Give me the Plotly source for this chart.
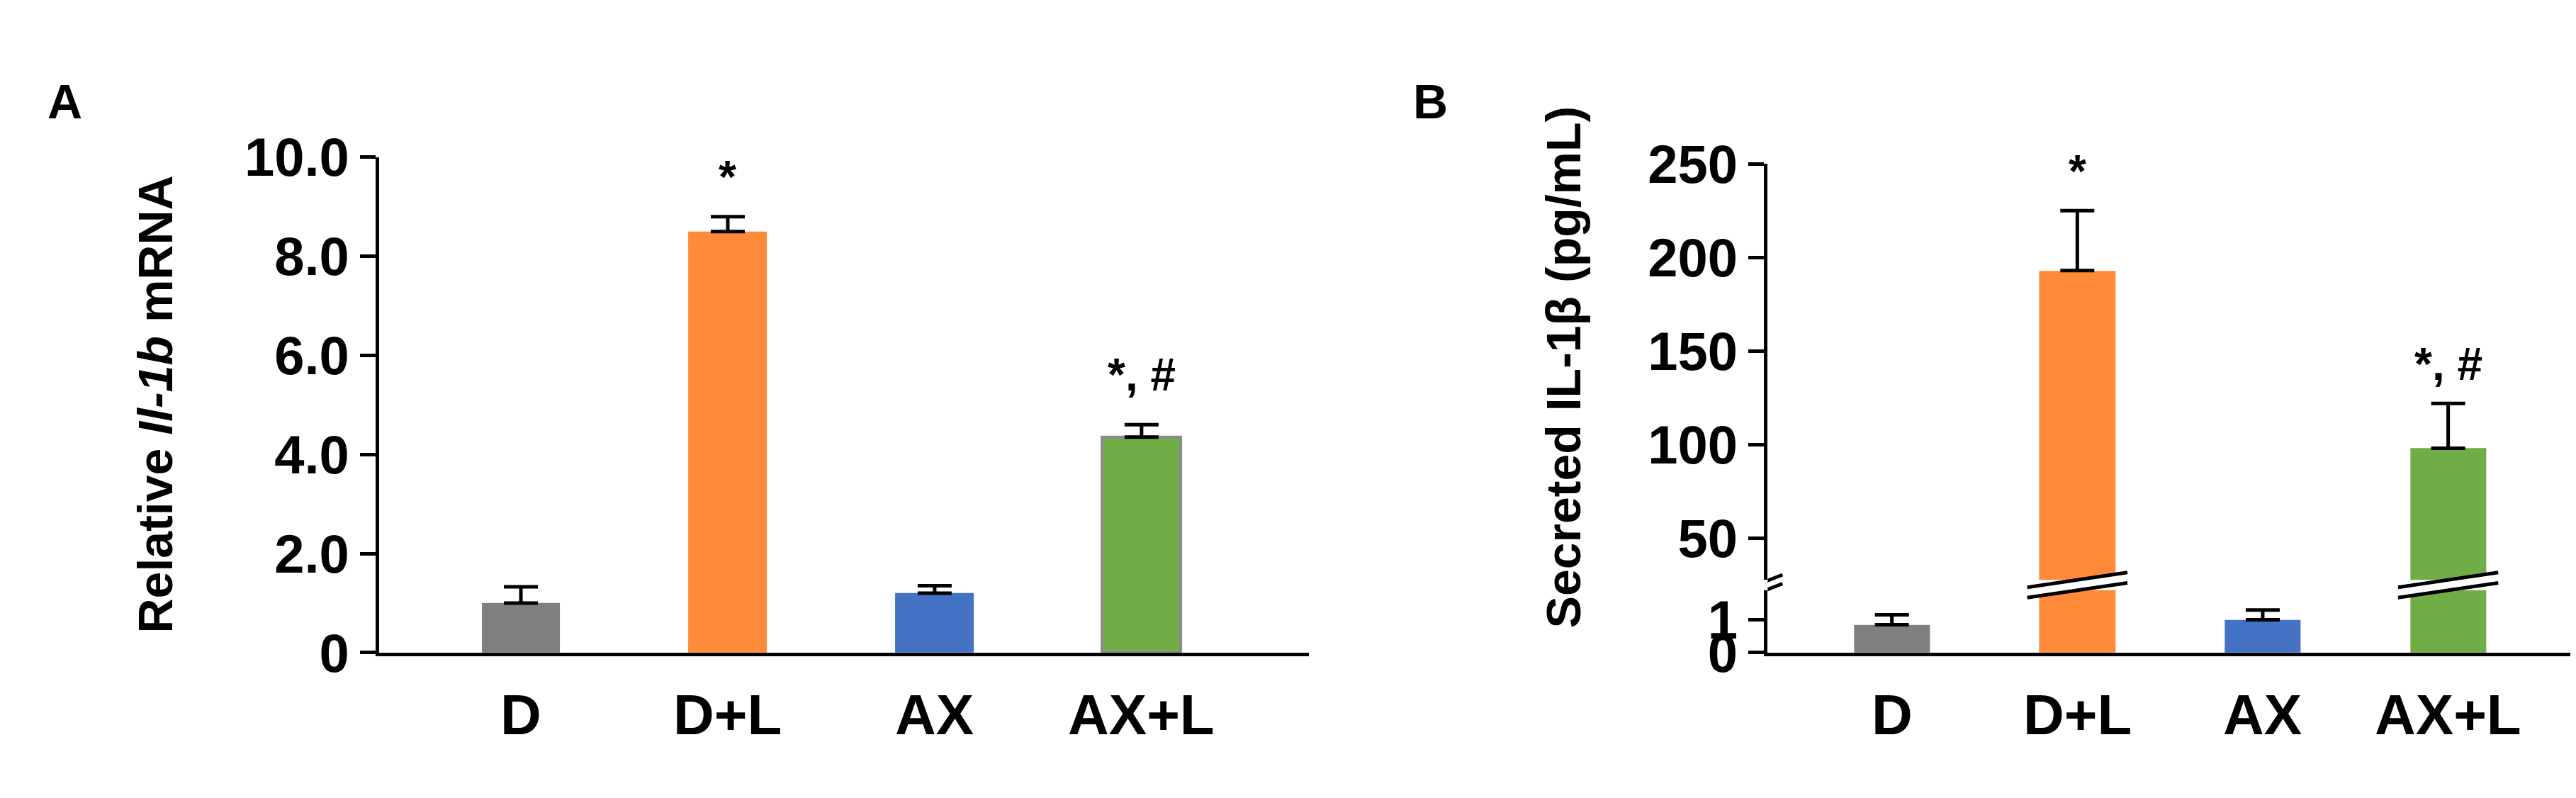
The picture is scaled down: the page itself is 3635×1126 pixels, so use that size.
import plotly.graph_objects as go

categories = ["D", "D+L", "AX", "AX+L"]
colors = ["#7f7f7f", "#ff8b3a", "#4472c4", "#70ad47"]

mrna_values = [1.0, 8.5, 1.2, 4.35]
mrna_err = [0.33, 0.3, 0.15, 0.25]
mrna_ticks = [0, 2, 4, 6, 8, 10]
mrna_ticktext = ["0", "2.0", "4.0", "6.0", "8.0", "10.0"]
mrna_marks = ["", "*", "", "*, #"]
mrna_mark_y = [0, 9.6, 0, 5.6]

il1b_values = [0.85, 193, 1.0, 98]
il1b_err = [0.3, 32, 0.3, 24]
il1b_ticks_upper = [50, 100, 150, 200, 250]
il1b_ticks_lower = [0, 1]
il1b_marks = ["", "*", "", "*, #"]
il1b_mark_y = [0, 246, 0, 143]

W, H = 3635, 1126
FONT = "Liberation Sans Narrow, Liberation Sans, Arial"
xs = list(range(len(categories)))

fig = go.Figure()

def bars(xa, ya, vals, errs, width, outline):
    fig.add_trace(go.Bar(
        x=xs, y=vals, xaxis=xa, yaxis=ya, width=width,
        marker=dict(color=colors, line=dict(color=outline, width=4)),
        error_y=dict(type="data", array=errs, arrayminus=[0]*len(errs), symmetric=False,
                     color="black", thickness=5, width=24),
        showlegend=False))

clear = "rgba(0,0,0,0)"
bars("x", "y", mrna_values, mrna_err, 0.38, [clear, clear, clear, "#8c8c8c"])
bars("x2", "y2", il1b_values, il1b_err, 0.41, [clear]*4)
bars("x2", "y3", il1b_values, il1b_err, 0.41, [clear]*4)

tickfont = dict(family=FONT, size=76, color="black")
axis_y = dict(showline=True, linecolor="black", linewidth=5, ticks="outside", ticklen=22,
              tickwidth=5, tickcolor="black", tickfont=tickfont, showgrid=False, zeroline=False)
axis_x = dict(showline=True, linecolor="black", linewidth=5, showticklabels=False, ticks="",
              showgrid=False, zeroline=False, fixedrange=True)

def bold(lst):
    return ["<b>%s</b>" % t for t in lst]

upper_lo, upper_dom = 27.7, [0.262, 0.826]
lower_hi, lower_dom = 1.9, [0.1634, 0.248]

fig.update_layout(
    width=W, height=H, margin=dict(l=0, r=0, t=0, b=0),
    plot_bgcolor="white", paper_bgcolor="white", bargap=0,
    font=dict(family=FONT, color="black"),
    xaxis=dict(axis_x, domain=[0.145, 0.506], range=[-0.685, 3.81], anchor="y"),
    yaxis=dict(axis_y, domain=[0.1634, 0.835], range=[0, 10], anchor="x",
               tickvals=mrna_ticks, ticktext=bold(mrna_ticktext)),
    xaxis2=dict(axis_x, domain=[0.684, 1.0], range=[-0.67, 3.72], anchor="y3"),
    yaxis2=dict(axis_y, domain=upper_dom, range=[upper_lo, 250], anchor="x2",
                tickvals=il1b_ticks_upper, ticktext=bold(il1b_ticks_upper)),
    yaxis3=dict(axis_y, domain=lower_dom, range=[0, lower_hi], anchor="x2",
                tickvals=il1b_ticks_lower, ticktext=bold(il1b_ticks_lower)),
)

ann = []
catfont = dict(family=FONT, size=80, color="black")
for xa in ["x", "x2"]:
    for i, c in enumerate(categories):
        ann.append(dict(x=i, y=0.035, xref=xa, yref="paper", text="<b>%s</b>" % c,
                        showarrow=False, font=catfont))
for i, m in enumerate(mrna_marks):
    if m:
        ann.append(dict(x=i, y=mrna_mark_y[i], xref="x", yref="y", text="<b>%s</b>" % m,
                        showarrow=False, font=dict(family=FONT, size=64)))
for i, m in enumerate(il1b_marks):
    if m:
        ann.append(dict(x=i, y=il1b_mark_y[i], xref="x2", yref="y2", text="<b>%s</b>" % m,
                        showarrow=False, font=dict(family=FONT, size=64)))
titlefont = dict(family="Liberation Sans, Arial", size=68, color="black")
ann.append(dict(x=170 / W, y=0.5, xref="paper", yref="paper", textangle=-90, showarrow=False,
                text="<b>Relative <i>Il-1b</i> mRNA</b>", font=titlefont))
ann.append(dict(x=2198 / W, y=0.55, xref="paper", yref="paper", textangle=-90, showarrow=False,
                text="<b>Secreted IL-1β (pg/mL)</b>", font=titlefont))
ann.append(dict(x=57 / W, y=1 - 57 / H, xref="paper", yref="paper", text="<b>A</b>",
                showarrow=False, font=dict(family="Liberation Sans, Arial", size=68)))
ann.append(dict(x=2010 / W, y=1 - 57 / H, xref="paper", yref="paper", text="<b>B</b>",
                showarrow=False, font=dict(family="Liberation Sans, Arial", size=68)))
fig.update_layout(annotations=ann)

# break marks on the tall bars and on the B y axis
gap_mid = (lower_dom[1] + upper_dom[0]) / 2
slope = 0.02
band = 0.014
shapes = []
for i, v in enumerate(il1b_values):
    if v > upper_lo:
        x0, x1 = i - 0.27, i + 0.27
        y0 = gap_mid - band / 2 - slope / 2
        shapes.append(dict(type="path", xref="x2", yref="paper", line=dict(width=0),
                           fillcolor="white",
                           path="M %f,%f L %f,%f L %f,%f L %f,%f Z" % (
                               x0, y0, x1, y0 + slope, x1, y0 + slope + band, x0, y0 + band)))
        for off in [0, band]:
            shapes.append(dict(type="line", xref="x2", yref="paper", x0=x0, x1=x1,
                               y0=y0 + off, y1=y0 + slope + off, line=dict(color="black", width=5)))
ax_x = -0.67
for off in [-0.006, 0.006]:
    shapes.append(dict(type="line", xref="x2", yref="paper", x0=ax_x - 0.08, x1=ax_x + 0.08,
                       y0=gap_mid + off - 0.008, y1=gap_mid + off + 0.008,
                       line=dict(color="black", width=5)))
fig.update_layout(shapes=shapes)

fig.write_html("out.html")
